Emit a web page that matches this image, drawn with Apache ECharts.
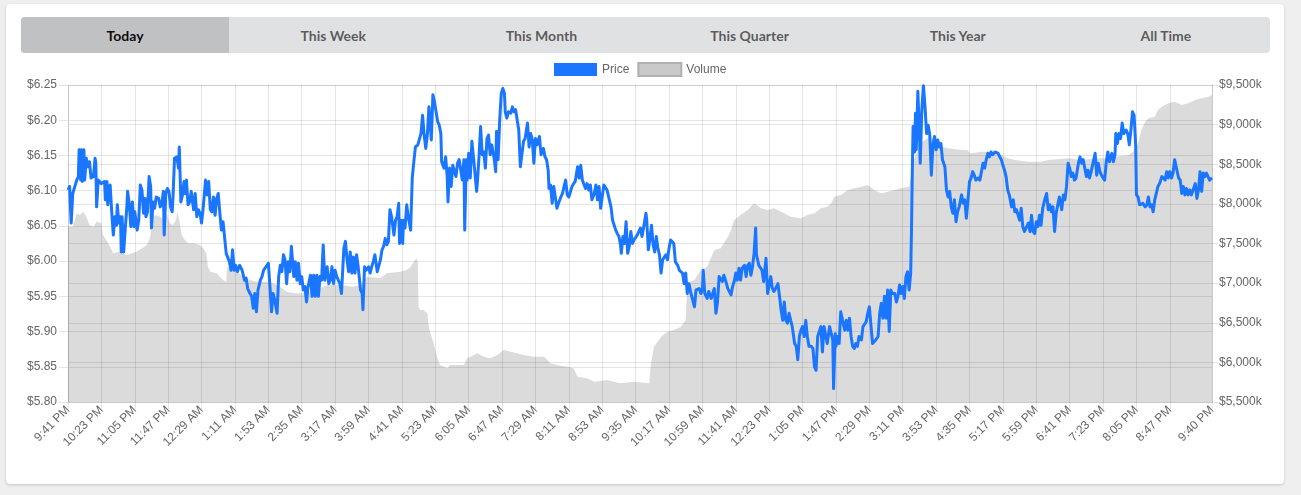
<!DOCTYPE html>
<html>
<head>
<meta charset="utf-8">
<script src="https://cdn.jsdelivr.net/npm/echarts@6/dist/echarts.min.js"></script>
<style>
  html,body{margin:0;padding:0;background:#efefef;width:1301px;height:495px;overflow:hidden;}
  #card{position:absolute;left:6px;top:4px;width:1278px;height:480px;background:#fff;border-radius:4px;box-shadow:0 1px 3px rgba(0,0,0,0.18);}
  #tabs{position:absolute;left:21px;top:17px;width:1249px;height:36px;display:flex;background:#e0e1e2;border-radius:4px;overflow:hidden;font-family:Lato,sans-serif;font-size:14px;font-weight:700;}
  #tabs div{flex:1;display:flex;align-items:center;justify-content:center;color:rgba(0,0,0,0.62);}
  #tabs div.active{background:#c0c1c2;color:rgba(0,0,0,0.95);}
  #chart{position:absolute;left:0;top:0;width:1301px;height:495px;}
</style>
</head>
<body>
<div id="card"></div>
<div id="tabs">
  <div class="active">Today</div><div>This Week</div><div>This Month</div><div>This Quarter</div><div>This Year</div><div>All Time</div>
</div>
<div id="chart"></div>
<script>
// ---- data ----
const startMinute = 21 * 60 + 41;   // 9:41 PM
const minuteCount = 1440;
const labelEvery = 42;
const priceTicks = [5.80, 5.85, 5.90, 5.95, 6.00, 6.05, 6.10, 6.15, 6.20, 6.25];
const volumeTicks = [5500, 6000, 6500, 7000, 7500, 8000, 8500, 9000, 9500];

// [minute index, price $]
const price = [
[0,6.101],[2,6.106],[4,6.054],[6,6.096],[8,6.094],[11,6.115],[13,6.120],[14,6.158],[16,6.115],[17,6.158],[18,6.113],[20,6.158],[21,6.115],[23,6.146],[25,6.134],[27,6.141],[29,6.118],[32,6.120],[34,6.146],[35,6.139],[36,6.077],[38,6.115],[42,6.110],[46,6.113],[47,6.087],[49,6.113],[50,6.080],[53,6.108],[55,6.070],[57,6.037],[59,6.063],[61,6.051],[62,6.080],[64,6.054],[66,6.063],[67,6.013],[68,6.063],[70,6.013],[72,6.011],[74,6.077],[75,6.099],[77,6.082],[79,6.049],[81,6.084],[83,6.049],[84,6.070],[87,6.044],[89,6.058],[91,6.108],[93,6.101],[95,6.068],[97,6.089],[98,6.063],[100,6.070],[102,6.120],[104,6.106],[105,6.047],[107,6.084],[109,6.075],[111,6.091],[114,6.089],[116,6.077],[118,6.082],[120,6.099],[121,6.037],[123,6.096],[125,6.103],[127,6.099],[129,6.077],[131,6.070],[132,6.089],[134,6.146],[137,6.148],[139,6.132],[140,6.162],[142,6.084],[144,6.094],[146,6.113],[147,6.096],[149,6.115],[151,6.080],[153,6.084],[155,6.099],[158,6.073],[160,6.096],[162,6.063],[164,6.073],[166,6.068],[168,6.054],[170,6.075],[172,6.077],[173,6.115],[175,6.094],[177,6.113],[179,6.073],[181,6.070],[183,6.091],[185,6.065],[187,6.089],[189,6.096],[191,6.068],[193,6.044],[195,6.056],[197,6.054],[199,6.011],[201,6.009],[203,5.999],[205,5.987],[207,6.016],[209,5.987],[211,5.994],[213,5.985],[216,5.994],[219,5.987],[222,5.973],[224,5.976],[226,5.961],[229,5.954],[231,5.950],[233,5.933],[235,5.954],[237,5.928],[239,5.959],[242,5.973],[244,5.978],[246,5.987],[249,5.992],[252,5.997],[254,5.964],[256,5.928],[258,5.954],[260,5.945],[263,5.926],[265,5.978],[267,5.994],[269,5.985],[271,6.009],[273,6.002],[275,5.968],[277,5.999],[279,5.985],[281,6.021],[284,5.978],[286,5.999],[288,5.973],[290,5.997],[292,5.968],[294,5.978],[296,5.959],[298,5.964],[300,5.942],[302,5.964],[305,5.980],[307,5.950],[309,5.980],[311,5.950],[313,5.980],[315,5.950],[317,5.978],[319,5.973],[321,6.023],[323,5.973],[326,5.992],[328,5.968],[330,5.973],[332,5.992],[334,5.968],[336,5.987],[338,5.978],[340,5.976],[342,5.968],[344,5.954],[347,6.018],[349,6.028],[351,6.002],[353,5.985],[355,6.013],[357,5.983],[359,6.006],[361,5.983],[363,6.009],[365,5.992],[368,5.959],[370,5.954],[371,5.931],[373,5.992],[375,5.987],[378,5.992],[380,5.983],[382,5.992],[384,5.999],[386,6.009],[389,5.985],[391,5.987],[393,6.002],[395,6.016],[397,6.021],[399,6.032],[401,6.023],[403,6.028],[405,6.073],[407,6.063],[410,6.037],[412,6.058],[414,6.063],[416,6.082],[417,6.025],[419,6.058],[421,6.025],[422,6.058],[424,6.047],[426,6.080],[428,6.063],[431,6.044],[433,6.118],[435,6.141],[437,6.162],[440,6.165],[442,6.167],[444,6.181],[446,6.207],[448,6.179],[450,6.160],[452,6.179],[454,6.219],[457,6.172],[459,6.236],[461,6.226],[463,6.226],[465,6.198],[467,6.193],[469,6.181],[470,6.141],[473,6.132],[475,6.148],[477,6.120],[478,6.084],[480,6.132],[482,6.106],[484,6.136],[486,6.136],[488,6.120],[490,6.139],[492,6.144],
[494,6.144],[496,6.115],[498,6.144],[499,6.044],[501,6.144],[502,6.115],[504,6.153],[506,6.118],[508,6.170],[510,6.148],[512,6.148],[514,6.099],[515,6.113],[517,6.148],[519,6.191],[521,6.151],[523,6.155],[525,6.132],[527,6.174],[529,6.179],[531,6.151],[533,6.165],[536,6.146],[538,6.127],[539,6.184],[541,6.144],[543,6.200],[544,6.198],[545,6.238],[547,6.245],[549,6.238],[550,6.212],[552,6.203],[554,6.212],[557,6.210],[559,6.219],[561,6.212],[563,6.215],[565,6.215],[567,6.186],[569,6.134],[571,6.136],[573,6.170],[575,6.174],[578,6.196],[580,6.162],[582,6.181],[584,6.172],[586,6.139],[588,6.174],[590,6.165],[592,6.167],[593,6.177],[595,6.151],[598,6.160],[600,6.148],[602,6.144],[604,6.129],[605,6.103],[607,6.108],[609,6.082],[611,6.106],[613,6.106],[615,6.075],[617,6.082],[620,6.091],[622,6.096],[624,6.106],[626,6.115],[628,6.094],[630,6.091],[632,6.091],[634,6.106],[636,6.110],[638,6.113],[641,6.134],[643,6.118],[645,6.136],[647,6.115],[649,6.115],[651,6.103],[653,6.110],[655,6.101],[657,6.108],[659,6.087],[662,6.096],[664,6.108],[666,6.087],[668,6.106],[670,6.075],[672,6.075],[674,6.108],[676,6.108],[678,6.101],[680,6.099],[683,6.077],[685,6.058],[687,6.056],[689,6.044],[691,6.039],[693,6.035],[695,6.023],[696,6.011],[698,6.035],[700,6.025],[702,6.056],[704,6.011],[706,6.021],[708,6.042],[710,6.025],[712,6.030],[714,6.030],[716,6.037],[718,6.035],[720,6.047],[722,6.035],[725,6.054],[727,6.068],[728,6.058],[730,6.016],[732,6.032],[734,6.051],[736,6.023],[738,6.013],[740,6.035],[742,6.018],[744,6.009],[746,5.983],[748,6.002],[750,6.002],[752,6.009],[754,6.002],[756,6.018],[758,6.030],[760,6.032],[762,6.025],[764,5.999],[767,5.994],[769,5.987],[771,5.985],[773,5.983],[775,5.968],[777,5.983],[779,5.954],[781,5.968],[783,5.957],[785,5.957],[788,5.935],[790,5.959],[792,5.959],[794,5.961],[796,5.954],[798,5.959],[799,5.987],[801,5.954],[803,5.952],[804,5.947],[806,5.957],[809,5.947],[811,5.954],[813,5.961],[815,5.926],[817,5.942],[819,5.978],[821,5.978],[823,5.971],[825,5.980],[827,5.973],[830,5.961],[832,5.961],[834,5.952],[836,5.964],[838,5.971],[840,5.983],[842,5.973],[844,5.990],[846,5.973],[848,5.990],[851,5.994],[853,5.978],[855,5.994],[857,5.997],[859,5.980],[861,5.992],[863,6.011],[865,6.047],[866,6.009],[869,5.994],[871,5.992],[873,5.987],[875,5.971],[877,5.973],[878,6.004],[880,5.954],[882,5.952],[884,5.978],[886,5.961],[888,5.957],[890,5.961],[893,5.968],[895,5.950],[897,5.931],[899,5.916],[901,5.942],[903,5.916],[905,5.912],[907,5.926],[909,5.916],[911,5.907],[914,5.883],[916,5.879],[918,5.860],[920,5.893],[922,5.902],
[924,5.907],[926,5.893],[928,5.916],[930,5.893],[932,5.879],[935,5.879],[937,5.876],[939,5.850],[941,5.845],[943,5.893],[945,5.900],[947,5.907],[949,5.871],[951,5.907],[953,5.905],[955,5.883],[958,5.907],[960,5.909],[962,5.888],[963,5.819],[965,5.897],[966,5.879],[968,5.893],[970,5.883],[972,5.928],[974,5.926],[977,5.902],[979,5.916],[981,5.902],[983,5.919],[985,5.893],[987,5.879],[989,5.876],[991,5.883],[993,5.879],[995,5.893],[998,5.888],[1000,5.907],[1002,5.909],[1004,5.914],[1006,5.926],[1008,5.935],[1010,5.909],[1012,5.883],[1014,5.883],[1016,5.888],[1019,5.893],[1021,5.926],[1023,5.940],[1025,5.919],[1027,5.950],[1029,5.919],[1031,5.959],[1033,5.900],[1035,5.959],[1037,5.954],[1040,5.954],[1042,5.942],[1044,5.950],[1046,5.966],[1048,5.954],[1050,5.964],[1052,5.947],[1054,5.978],[1056,5.985],[1058,5.959],[1060,5.983],[1061,6.044],[1062,6.125],[1063,6.191],[1065,6.155],[1066,6.210],[1067,6.158],[1069,6.241],[1071,6.181],[1072,6.139],[1074,6.215],[1076,6.249],[1078,6.219],[1080,6.181],[1082,6.193],[1084,6.179],[1086,6.122],[1088,6.165],[1090,6.177],[1092,6.158],[1094,6.172],[1096,6.162],[1098,6.167],[1100,6.144],[1103,6.134],[1105,6.101],[1107,6.091],[1109,6.099],[1111,6.077],[1113,6.068],[1115,6.087],[1117,6.056],[1119,6.070],[1121,6.077],[1124,6.094],[1126,6.082],[1128,6.087],[1130,6.061],[1132,6.087],[1134,6.113],[1136,6.118],[1138,6.127],[1140,6.122],[1142,6.115],[1145,6.118],[1147,6.115],[1149,6.113],[1151,6.139],[1153,6.132],[1155,6.144],[1157,6.153],[1159,6.148],[1161,6.155],[1163,6.151],[1166,6.155],[1168,6.155],[1170,6.153],[1172,6.148],[1174,6.144],[1176,6.136],[1178,6.129],[1180,6.120],[1182,6.101],[1184,6.094],[1187,6.077],[1189,6.087],[1191,6.070],[1193,6.073],[1195,6.073],[1197,6.058],[1199,6.075],[1201,6.049],[1203,6.042],[1205,6.044],[1208,6.054],[1210,6.042],[1212,6.065],[1214,6.042],[1216,6.039],[1218,6.056],[1220,6.049],[1222,6.065],[1224,6.051],[1226,6.075],[1229,6.089],[1231,6.096],[1233,6.073],[1235,6.080],[1237,6.070],[1239,6.077],[1241,6.042],[1243,6.068],[1245,6.080],[1247,6.091],[1250,6.073],[1252,6.094],[1254,6.087],[1256,6.106],[1258,6.139],[1260,6.132],[1262,6.120],[1264,6.125],[1266,6.115],[1268,6.118],[1271,6.139],[1273,6.148],[1275,6.139],[1277,6.144],[1279,6.132],[1281,6.120],[1283,6.129],[1285,6.118],[1287,6.127],[1289,6.125],[1292,6.153],[1294,6.122],[1296,6.139],[1298,6.127],[1300,6.122],[1302,6.118],[1304,6.115],[1306,6.141],[1308,6.155],[1310,6.141],[1313,6.153],[1315,6.141],[1317,6.151],[1318,6.181],[1320,6.167],[1322,6.181],[1324,6.174],[1326,6.196],[1328,6.181],[1331,6.186],[1333,6.181],[1335,6.165],[1337,6.186],[1339,6.212],[1341,6.207],[1343,6.165],[1344,6.094],[1346,6.091],[1348,6.080],[1350,6.080],[1352,6.082],[1355,6.077],[1357,6.080],[1359,6.091],[1361,6.077],[1363,6.080],[1365,6.070],[1367,6.087],[1369,6.089],[1371,6.106],[1373,6.110],[1376,6.120],[1378,6.120],[1380,6.115],[1382,6.127],[1384,6.118],[1386,6.127],[1388,6.118],[1390,6.125],[1392,6.144],[1394,6.146],[1397,6.118],[1399,6.115],[1401,6.096],[1403,6.106],[1405,6.094],[1407,6.103],[1409,6.094],[1411,6.101],[1413,6.094],[1415,6.096],[1418,6.110],[1420,6.089],[1422,6.101],[1424,6.127],[1426,6.099],[1428,6.125],[1430,6.120],[1432,6.125],[1434,6.120],[1436,6.115],[1439,6.118]
];

// [minute index, volume $k]
const volume = [
[0,7712],[2,7733],[6,7712],[11,7881],[15,7860],[19,7902],[23,7839],[27,7733],[32,7712],[36,7775],[42,7754],[44,7607],[48,7544],[53,7460],[57,7376],[65,7397],[74,7355],[86,7397],[90,7418],[99,7481],[101,7502],[103,7565],[107,7839],[111,7860],[116,7839],[120,7796],[124,7881],[128,7754],[132,7733],[136,7796],[137,7902],[140,7796],[143,7607],[147,7544],[151,7502],[158,7502],[166,7481],[170,7439],[174,7376],[176,7208],[179,7145],[187,7124],[195,7039],[199,7018],[200,7208],[204,7166],[212,7145],[221,7081],[229,7039],[237,7018],[250,7018],[258,6997],[267,6955],[275,6892],[284,6871],[300,6871],[309,6913],[317,6934],[326,6976],[342,6976],[359,6955],[368,6976],[376,7081],[393,7060],[401,7124],[418,7145],[426,7166],[431,7208],[435,7271],[438,7313],[440,7271],[441,6703],[443,6661],[447,6661],[452,6619],[454,6430],[456,6366],[460,6240],[464,6072],[468,5967],[473,5946],[477,5925],[481,5967],[494,5967],
[498,5967],[502,6051],[506,6072],[515,6114],[523,6072],[531,6051],[540,6093],[548,6156],[557,6135],[565,6114],[573,6093],[586,6072],[599,6072],[607,5988],[615,5967],[628,5946],[636,5925],[641,5820],[653,5799],[662,5757],[678,5778],[695,5736],[712,5757],[731,5736],[733,5967],[737,6198],[746,6324],[754,6387],[762,6408],[771,6451],[777,6535],[779,6997],[788,7039],[796,7166],[804,7208],[813,7418],[821,7439],[830,7586],[834,7670],[838,7797],[846,7860],[855,7923],[863,8007],[872,7944],[880,7923],[888,7944],[897,7902],[909,7839],[922,7818],
[930,7860],[939,7881],[947,7944],[955,7965],[960,8007],[964,8091],[972,8112],[981,8175],[989,8196],[998,8217],[1006,8238],[1014,8175],[1023,8133],[1031,8154],[1040,8175],[1048,8196],[1058,8217],[1060,8230],[1064,8560],[1074,8780],[1083,8840],[1090,8800],[1100,8720],[1107,8701],[1124,8680],[1131,8680],[1135,8640],[1149,8659],[1166,8659],[1174,8617],[1182,8575],[1191,8554],[1208,8533],[1224,8533],[1233,8554],[1258,8575],[1275,8554],[1292,8575],[1308,8575],[1317,8596],[1334,8617],[1342,8680],[1346,8764],[1350,8932],[1355,9037],[1359,9079],[1367,9100],[1371,9184],[1376,9226],[1384,9269],[1392,9290],[1401,9248],[1409,9269],[1418,9311],[1426,9332],[1434,9353],[1439,9374]
];

// category labels: one per minute from 9:41 PM
const categories = [];
for (let i = 0; i < minuteCount; i++) {
  const t = (startMinute + i) % 1440;
  const h = Math.floor(t / 60), m = t % 60;
  categories.push((h % 12 || 12) + ':' + String(m).padStart(2, '0') + ' ' + (h < 12 ? 'AM' : 'PM'));
}
const showTick = (i) => (i % labelEvery === 0 && i < minuteCount - labelEvery / 2) || i === minuteCount - 1;

const gridColor = 'rgba(0,0,0,0.1)';
const chart = echarts.init(document.getElementById('chart'), null, { renderer: 'canvas' });
chart.setOption({
  animation: false,
  textStyle: { fontFamily: 'Liberation Sans, Arial, sans-serif' },
  legend: {
    top: 62, left: 554, padding: 0,
    itemWidth: 43, itemHeight: 13, itemGap: 8,
    textStyle: { color: '#666', fontSize: 12, fontFamily: 'Liberation Sans, Arial, sans-serif' },
    data: [
      { name: 'Price', icon: 'rect', itemStyle: { color: '#1a75ff' } },
      { name: 'Volume', icon: 'rect', itemStyle: { color: '#c9c9c9', borderColor: '#b0b0b0', borderWidth: 2 } }
    ]
  },
  grid: { left: 68, right: 89, top: 85, bottom: 93 },
  xAxis: {
    type: 'category', data: categories, boundaryGap: false,
    axisLine: { lineStyle: { color: '#c8c8c8' } },
    axisTick: { show: true, interval: (i) => showTick(i), length: 7, lineStyle: { color: gridColor } },
    splitLine: { show: true, interval: (i) => showTick(i), lineStyle: { color: gridColor } },
    axisLabel: { interval: (i) => showTick(i), rotate: 45, color: '#666', fontSize: 12, margin: 6,
                 fontFamily: 'Liberation Sans, Arial, sans-serif' }
  },
  yAxis: [
    { type: 'value', position: 'left', min: priceTicks[0], max: priceTicks[priceTicks.length - 1], interval: 0.05,
      axisLine: { show: true, lineStyle: { color: '#c8c8c8' } },
      axisTick: { show: true, length: 9, lineStyle: { color: gridColor } },
      splitLine: { show: true, lineStyle: { color: gridColor } },
      axisLabel: { color: '#666', fontSize: 12, margin: 11, formatter: (v) => '$' + v.toFixed(2) } },
    { type: 'value', position: 'right', min: volumeTicks[0], max: volumeTicks[volumeTicks.length - 1], interval: 500,
      axisLine: { show: true, lineStyle: { color: '#c8c8c8' } },
      axisTick: { show: true, length: 6, lineStyle: { color: gridColor } },
      splitLine: { show: true, lineStyle: { color: gridColor } },
      axisLabel: { color: '#666', fontSize: 12, margin: 7, formatter: (v) => '$' + v.toLocaleString('en-US') + 'k' } }
  ],
  series: [
    { name: 'Volume', type: 'line', yAxisIndex: 1, data: volume, showSymbol: false, z: 1,
      itemStyle: { color: '#c9c9c9' },
      lineStyle: { width: 0 }, areaStyle: { color: 'rgba(0,0,0,0.14)', opacity: 1 } },
    { name: 'Price', type: 'line', yAxisIndex: 0, data: price, showSymbol: false, z: 3,
      itemStyle: { color: '#1a75ff' },
      lineStyle: { width: 3, color: '#1a75ff', join: 'round' } }
  ]
});
</script>
</body>
</html>
